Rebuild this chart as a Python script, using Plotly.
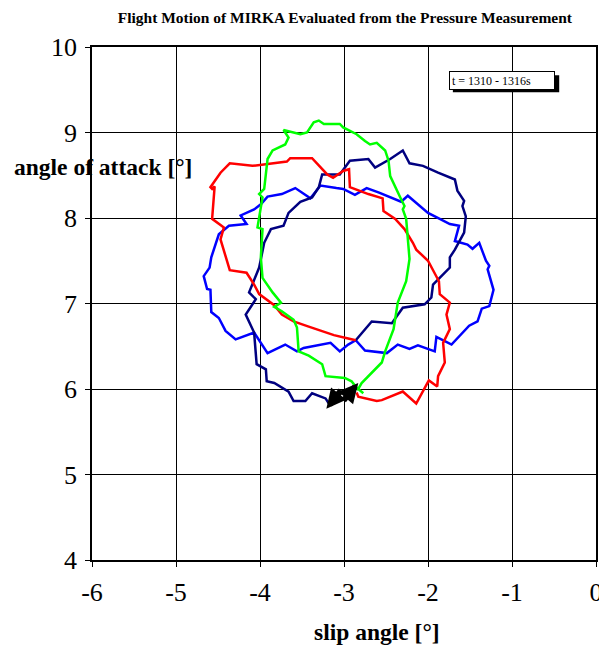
import plotly.graph_objects as go

# slip angle / angle of attack traces
red_slip = [-2.85, -2.83, -2.61, -2.55, -2.30, -2.14, -1.99, -1.89, -1.88, -1.80,
            -1.82, -1.74, -1.78, -1.74, -1.86, -1.87, -2.00, -2.14, -2.18, -2.28,
            -2.39, -2.53, -2.54, -2.71, -2.93, -2.94, -3.01, -3.13, -3.20, -3.38,
            -3.64, -3.68, -4.09, -4.36, -4.47, -4.54, -4.59, -4.57, -4.54, -4.57,
            -4.43, -4.47, -4.41, -4.36, -4.16, -4.07, -4.01, -3.83, -3.74, -3.60,
            -3.42, -3.26, -3.12, -2.95, -2.86]
red_aoa = [5.96, 5.91, 5.86, 5.87, 5.97, 5.83, 6.10, 6.03, 6.15, 6.31,
           6.54, 6.70, 6.87, 7.01, 7.11, 7.26, 7.50, 7.63, 7.71, 7.87,
           7.99, 8.08, 8.23, 8.28, 8.36, 8.57, 8.55, 8.47, 8.51, 8.70,
           8.70, 8.66, 8.61, 8.64, 8.53, 8.43, 8.36, 8.34, 8.37, 7.99,
           7.89, 7.75, 7.54, 7.39, 7.36, 7.22, 7.11, 6.98, 6.87, 6.79,
           6.73, 6.68, 6.63, 6.59, 6.57]

navy_slip = [-2.86, -2.67, -2.43, -2.30, -2.04, -1.96, -1.94, -1.74, -1.74, -1.68,
             -1.57, -1.55, -1.59, -1.57, -1.65, -1.68, -1.88, -2.06, -2.22, -2.30,
             -2.45, -2.63, -2.71, -2.93, -3.05, -3.26, -3.30, -3.38, -3.52, -3.66,
             -3.72, -3.87, -3.95, -3.99, -4.01, -4.13, -4.05, -4.17, -4.07, -4.04,
             -3.93, -3.92, -3.83, -3.66, -3.60, -3.46, -3.38, -3.22, -3.18]
navy_aoa = [6.57, 6.79, 6.77, 6.95, 6.99, 7.07, 7.22, 7.42, 7.54, 7.63,
            7.83, 8.02, 8.14, 8.20, 8.32, 8.45, 8.53, 8.61, 8.64, 8.79,
            8.69, 8.59, 8.69, 8.67, 8.51, 8.51, 8.36, 8.24, 8.19, 8.06,
            7.91, 7.87, 7.71, 7.54, 7.42, 7.13, 7.05, 6.87, 6.66, 6.29,
            6.23, 6.09, 6.07, 5.97, 5.86, 5.86, 5.95, 5.89, 5.83]

blue_slip = [-2.86, -2.75, -2.49, -2.36, -2.22, -2.12, -1.92, -1.90, -1.80, -1.72,
             -1.51, -1.41, -1.36, -1.27, -1.22, -1.29, -1.27, -1.31, -1.39, -1.47,
             -1.53, -1.68, -1.63, -1.74, -1.86, -2.00, -2.24, -2.32, -2.59, -2.73,
             -2.87, -3.01, -3.09, -3.28, -3.40, -3.58, -3.74, -3.91, -3.99, -4.07,
             -4.23, -4.16, -4.37, -4.49, -4.58, -4.60, -4.67, -4.63, -4.59, -4.58,
             -4.49, -4.41, -4.29, -4.07, -3.91, -3.70, -3.56, -3.48, -3.16, -3.05,
             -2.95, -2.86]
blue_aoa = [6.57, 6.45, 6.42, 6.52, 6.47, 6.51, 6.44, 6.61, 6.56, 6.52,
            6.74, 6.79, 6.94, 6.97, 7.16, 7.40, 7.44, 7.50, 7.71, 7.64,
            7.69, 7.73, 7.91, 7.93, 7.99, 8.06, 8.26, 8.19, 8.30, 8.35,
            8.27, 8.34, 8.35, 8.38, 8.23, 8.35, 8.28, 8.25, 8.16, 8.10,
            8.03, 7.93, 7.91, 7.81, 7.54, 7.42, 7.32, 7.17, 7.16, 6.90,
            6.83, 6.68, 6.58, 6.66, 6.42, 6.52, 6.44, 6.48, 6.54, 6.44,
            6.52, 6.57]

green_slip = [-2.77, -2.83, -2.79, -2.55, -2.51, -2.41, -2.36, -2.26, -2.22, -2.24,
              -2.26, -2.30, -2.28, -2.32, -2.45, -2.47, -2.51, -2.61, -2.69, -2.75,
              -2.85, -3.01, -3.05, -3.24, -3.30, -3.36, -3.44, -3.52, -3.72, -3.66,
              -3.70, -3.85, -3.91, -3.95, -4.01, -3.97, -4.03, -3.97, -3.99, -3.97,
              -3.85, -3.75, -3.83, -3.74, -3.60, -3.56, -3.54, -3.42, -3.26, -3.22,
              -2.99, -2.91, -2.83]
green_aoa = [5.95, 6.00, 6.07, 6.31, 6.44, 6.70, 7.01, 7.26, 7.52, 7.73,
             7.99, 8.10, 8.14, 8.22, 8.49, 8.67, 8.79, 8.88, 8.86, 8.90,
             8.98, 9.06, 9.10, 9.10, 9.14, 9.12, 9.00, 8.98, 9.03, 8.94,
             8.86, 8.79, 8.69, 8.34, 8.28, 8.24, 7.89, 7.87, 7.54, 7.30,
             7.13, 7.01, 6.96, 6.91, 6.81, 6.72, 6.44, 6.39, 6.29, 6.15,
             6.13, 6.09, 5.99]

# direction arrows (tail -> head)
arrow_tail_slip = [-3.02, -3.02]
arrow_tail_aoa = [6.00, 5.85]
arrow_head_slip = [-3.21, -2.83]
arrow_head_aoa = [5.77, 6.07]

x_ticks = [-6, -5, -4, -3, -2, -1, 0]
x_labels = ["-6", "-5", "-4", "-3", "-2", "-1", "0"]
y_ticks = [4, 5, 6, 7, 8, 9, 10]
time_label = "t = 1310 - 1316s"

SERIF = "Liberation Serif"

fig = go.Figure()

series = [
    (blue_slip, blue_aoa, "#0000FF"),
    (navy_slip, navy_aoa, "#000080"),
    (red_slip, red_aoa, "#FF0000"),
    (green_slip, green_aoa, "#00FF00"),
]
for xs, ys, col in series:
    fig.add_trace(go.Scatter(x=xs, y=ys, mode="lines",
                             line=dict(color=col, width=2.5),
                             showlegend=False, hoverinfo="skip"))

for tx, ty, hx, hy in zip(arrow_tail_slip, arrow_tail_aoa, arrow_head_slip, arrow_head_aoa):
    fig.add_annotation(x=hx, y=hy, ax=tx, ay=ty, xref="x", yref="y",
                       axref="x", ayref="y", text="", showarrow=True,
                       arrowhead=2, arrowsize=0.65, arrowwidth=6,
                       arrowcolor="black", standoff=0, startstandoff=0)

# time box with drop shadow
fig.add_shape(type="rect", xref="paper", yref="paper",
              x0=0.716, x1=0.927, y0=0.912, y1=0.945,
              fillcolor="black", line=dict(width=0))
fig.add_annotation(x=0.708, y=0.953, xref="paper", yref="paper",
                   xanchor="left", yanchor="top", text=time_label,
                   showarrow=False, align="left", width=100, height=13,
                   bgcolor="white", bordercolor="black", borderwidth=1,
                   borderpad=2, font=dict(family=SERIF, size=12, color="black"))

# axis titles
fig.add_annotation(x=-0.158, y=0.766, xref="paper", yref="paper",
                   xanchor="left", yanchor="middle", showarrow=False,
                   text="<b>angle of attack [°]</b>",
                   font=dict(family=SERIF, size=23.5, color="black"))
fig.add_annotation(x=0.566, y=-0.140, xref="paper", yref="paper",
                   xanchor="center", yanchor="middle", showarrow=False,
                   text="<b>slip angle [°]</b>",
                   font=dict(family=SERIF, size=23.5, color="black"))

# the page body adds an 8px offset, margins are set to compensate
fig.update_layout(
    width=607, height=646,
    margin=dict(l=84, r=15, t=39, b=94),
    paper_bgcolor="white", plot_bgcolor="white",
    title=dict(text="<b>Flight Motion of MIRKA Evaluated from the Pressure Measurement</b>",
               x=0.555, xanchor="center", y=0.985, yanchor="middle",
               font=dict(family=SERIF, size=15.5, color="black")),
    font=dict(family=SERIF, color="black"),
)
fig.update_xaxes(range=[-6, 0], tickvals=x_ticks, ticktext=x_labels,
                 showgrid=True, gridcolor="black",
                 gridwidth=1, zeroline=False, showline=True, linecolor="black",
                 linewidth=1.5, mirror=True, ticks="outside", ticklen=5,
                 tickcolor="black", ticklabelstandoff=3,
                 tickfont=dict(family=SERIF, size=26, color="black"))
fig.update_yaxes(range=[4, 10], tickvals=y_ticks, showgrid=True, gridcolor="black",
                 gridwidth=1, zeroline=False, showline=True, linecolor="black",
                 linewidth=1.5, mirror=True, ticks="outside", ticklen=5,
                 tickcolor="black", ticklabelstandoff=3,
                 tickfont=dict(family=SERIF, size=26, color="black"))

fig.write_html("out.html")
